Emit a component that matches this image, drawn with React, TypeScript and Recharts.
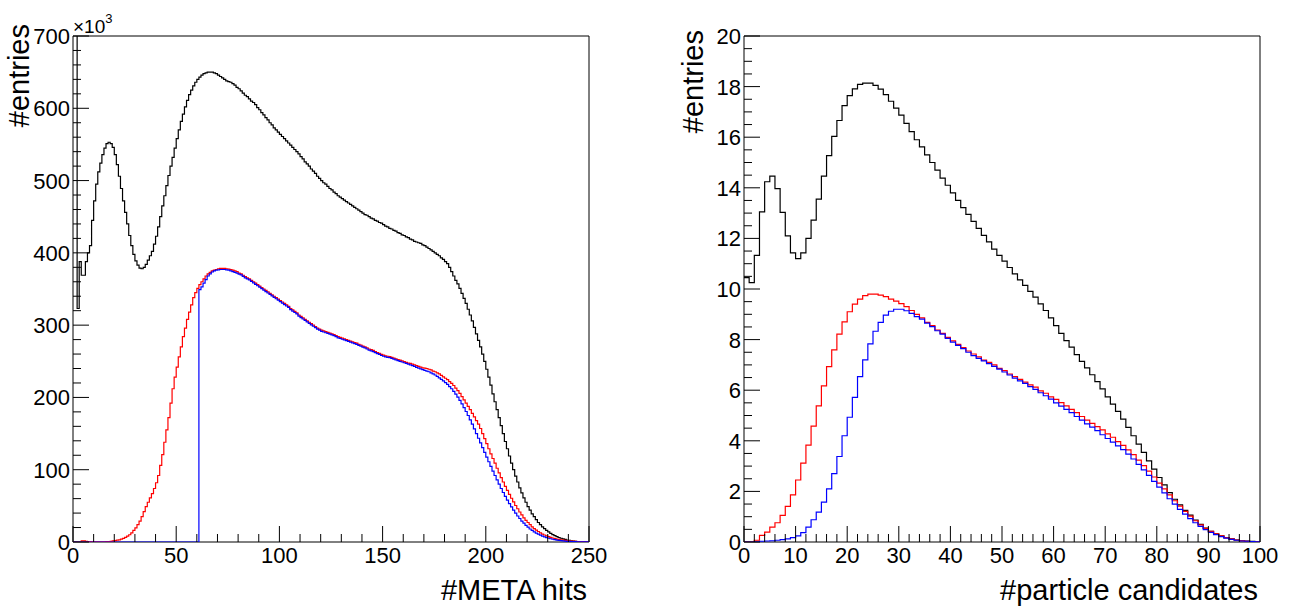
import { LineChart, Line, XAxis, YAxis, ReferenceArea } from 'recharts';

const FONT = '"Liberation Sans", Arial, Helvetica, sans-serif';

// Left panel: #META hits, one bin per hit, counts in units of 10^3
const metaAll = [
  760, 760, 323, 388, 369, 369, 388, 400, 410, 445,
  472, 495, 512, 524, 536, 545, 551, 553, 551, 546,
  536, 522, 506, 489, 472, 456, 440, 424, 410, 398,
  389, 383, 379, 378, 380, 384, 390, 396, 402, 412,
  423, 436, 450, 465, 479, 493, 507, 520, 532, 545,
  558, 570, 582, 592, 602, 611, 619, 625, 631, 636,
  640, 643, 646, 648, 649, 650, 650, 650, 649, 648,
  646, 644, 642, 640, 638, 637, 636, 634, 632, 629,
  627, 624, 621, 618, 616, 613, 610, 608, 605, 601,
  598, 594, 591, 587, 584, 580, 577, 573, 570, 567,
  564, 561, 558, 555, 552, 549, 546, 543, 540, 537,
  533, 530, 526, 523, 520, 516, 513, 510, 506, 503,
  500, 497, 495, 492, 489, 487, 484, 482, 479, 477,
  475, 473, 471, 469, 467, 465, 463, 461, 459, 457,
  455, 453, 452, 450, 448, 447, 445, 444, 442, 441,
  439, 437, 436, 434, 433, 431, 430, 428, 427, 425,
  424, 422, 421, 419, 418, 416, 415, 414, 413, 411,
  410, 408, 406, 404, 402, 400, 398, 396, 393, 391,
  388, 385, 380, 374, 368, 362, 357, 351, 344, 337,
  330, 322, 314, 306, 297, 288, 279, 270, 260, 250,
  239, 228, 217, 205, 194, 183, 172, 161, 150, 139,
  129, 119, 109, 100, 91, 83, 75, 68, 61, 55,
  49, 44, 39, 35, 31, 27, 24, 21, 18.5, 16,
  14, 12, 10.3, 8.8, 7.4, 6.2, 5.2, 4.3, 3.5, 2.8,
  2.2, 1.7, 1.3, 1.0, 0.7, 0.5, 0.35, 0.25, 0.15, 0.1,
];

const metaRed = [
  0, 0, 0, 0, 1.5, 1.5, 1, 0.5, 0.5, 0.3,
  0.3, 0.3, 0.3, 0.3, 0.3, 0.3, 0.5, 0.5, 1, 1.5,
  2, 2.5, 3, 4, 5, 6.5, 8, 10, 12.5, 16,
  19.5, 24, 29, 35, 42, 49, 55, 61, 67, 74,
  82, 92, 106, 121, 138, 155, 172, 192, 212, 228,
  242, 256, 270, 284, 296, 308, 318, 328, 338, 345,
  351, 356, 360, 364, 368, 371, 373, 375, 376, 377,
  378, 378.5, 378.5, 378.5, 378, 377.5, 377, 376, 375, 374,
  372, 371, 369, 367, 365.5, 364, 362, 360, 358, 356,
  354, 352, 350, 348, 346, 344, 342, 340, 338, 336,
  334, 332, 330, 328, 326, 323, 321, 319, 317, 314,
  312, 310, 308, 306, 304, 302, 300, 298, 296, 294.5,
  293, 292, 291, 290, 289, 288, 287, 285.5, 284, 283,
  282, 281, 280, 279, 278, 277, 276, 275, 273.5, 272.5,
  271, 270, 268.5, 267, 266, 265, 263.5, 262, 261, 259.5,
  258.5, 257.5, 257, 256.5, 255.5, 254.5, 253.5, 252.5, 251.5, 250.5,
  249.5, 248.5, 247.5, 247, 246, 245, 244, 243, 242, 241,
  240.5, 240, 239, 238, 236.5, 235.5, 234, 232.5, 230.5, 228.5,
  226.5, 224.5, 222, 219.5, 216.5, 213, 209.5, 205.5, 201, 196.5,
  192, 187.5, 183, 178, 173, 168, 163, 157, 150, 143,
  136, 129, 122, 115.5, 109, 102, 95.5, 89, 83, 77,
  71.5, 66, 60.5, 55.5, 50.5, 46, 41.5, 37.5, 33.5, 30,
  27, 24, 21, 18.5, 16.5, 14.5, 12.5, 11, 9.7, 8.5,
  7.4, 6.4, 5.5, 4.8, 4.1, 3.6, 3.1, 2.7, 2.3, 1.9,
  1.6, 1.3, 1.1, 0.9, 0.7, 0.5, 0.4, 0.3, 0.2, 0.1,
];

const metaBlue = [
  0, 0, 0, 0, 0, 0, 0, 0, 0, 0,
  0, 0, 0, 0, 0, 0, 0, 0, 0, 0,
  0, 0, 0, 0, 0, 0, 0, 0, 0, 0,
  0, 0, 0, 0, 0, 0, 0, 0, 0, 0,
  0, 0, 0, 0, 0, 0, 0, 0, 0, 0,
  0, 0, 0, 0, 0, 0, 0, 0, 0, 0,
  0, 349, 353, 358, 363, 368, 371, 373.5, 375, 376,
  376.5, 377, 377, 377, 376.5, 376, 375, 374, 373, 372,
  370.5, 369.5, 367.5, 365.5, 364, 362.5, 360.5, 358.5, 356.5, 354.5,
  352.5, 350.5, 348.5, 346.5, 344.5, 342.5, 340.5, 338.5, 336.5, 334.5,
  332.5, 330.5, 328.5, 326.5, 324.5, 321.5, 319.5, 317.5, 315.5, 312.5,
  310.5, 308.5, 306.5, 304.5, 302.5, 300.5, 298.5, 296.5, 294.5, 293,
  291.5, 290.5, 289.5, 288.5, 287.5, 286.5, 285.5, 284, 282.5, 281.5,
  280.5, 279.5, 278.5, 277.5, 276.5, 275.5, 274.5, 273.5, 272, 271,
  269.5, 268.5, 267, 265.5, 264.5, 263.5, 262, 260.5, 259.5, 258,
  257, 256, 255.5, 255, 254, 253, 252, 251, 250, 249,
  248, 247, 246, 245, 244, 243, 241.5, 240.5, 239.5, 238.5,
  237.5, 236.5, 235.5, 234, 232.5, 231, 229, 227, 225, 223,
  220.5, 218, 215, 212, 208.5, 204.5, 200.5, 196, 191, 186,
  180.5, 175, 169, 163, 156.5, 150, 143.5, 137, 130.5, 124,
  117.5, 111, 104.5, 98, 92, 86, 80, 74, 68.5, 63,
  58, 53, 48.5, 44, 40, 36, 32.5, 29, 26, 23,
  20.5, 18, 16, 14, 12.3, 10.8, 9.4, 8.2, 7.1, 6.1,
  5.2, 4.5, 3.8, 3.2, 2.7, 2.2, 1.8, 1.5, 1.2, 1.0,
  0.8, 0.6, 0.5, 0.4, 0.3, 0.2, 0.15, 0.1, 0.05, 0.05,
];

// Right panel: #particle candidates, one bin per candidate
const candAll = [
  10.45, 10.25, 11.33, 13.05, 14.24, 14.46, 13.97, 13.03, 12.1, 11.43,
  11.2, 11.43, 12.0, 12.72, 13.55, 14.46, 15.27, 16.03, 16.66, 17.25,
  17.64, 17.91, 18.09, 18.14, 18.14, 18.05, 17.9, 17.68, 17.42, 17.15,
  16.87, 16.55, 16.22, 15.9, 15.62, 15.3, 15.0, 14.7, 14.38, 14.1,
  13.8, 13.5, 13.22, 12.95, 12.67, 12.4, 12.12, 11.86, 11.58, 11.33,
  11.1, 10.85, 10.6, 10.36, 10.14, 9.91, 9.68, 9.41, 9.15, 8.86,
  8.55, 8.25, 7.96, 7.7, 7.41, 7.14, 6.88, 6.61, 6.34, 6.05,
  5.74, 5.45, 5.16, 4.86, 4.53, 4.2, 3.87, 3.54, 3.21, 2.88,
  2.55, 2.26, 1.95, 1.69, 1.47, 1.25, 1.06, 0.87, 0.7, 0.55,
  0.42, 0.32, 0.24, 0.17, 0.12, 0.08, 0.05, 0.04, 0.03, 0.01,
];

const candRed = [
  0, 0, 0.07, 0.26, 0.39, 0.59, 0.76, 1.05, 1.41, 1.86,
  2.45, 3.12, 3.83, 4.58, 5.38, 6.17, 6.93, 7.59, 8.22, 8.7,
  9.1, 9.4, 9.6, 9.74, 9.8, 9.8, 9.76, 9.7, 9.6, 9.52,
  9.42, 9.3, 9.15, 9.0, 8.86, 8.68, 8.55, 8.38, 8.25, 8.09,
  7.95, 7.81, 7.68, 7.55, 7.43, 7.32, 7.19, 7.1, 7.0, 6.86,
  6.77, 6.64, 6.54, 6.43, 6.32, 6.21, 6.12, 5.97, 5.88, 5.74,
  5.64, 5.51, 5.38, 5.24, 5.11, 4.96, 4.82, 4.69, 4.56, 4.43,
  4.27, 4.14, 3.97, 3.82, 3.64, 3.45, 3.24, 3.02, 2.8, 2.57,
  2.33, 2.1, 1.86, 1.63, 1.42, 1.21, 1.02, 0.84, 0.68, 0.54,
  0.42, 0.32, 0.24, 0.17, 0.12, 0.08, 0.05, 0.03, 0.02, 0.01,
];

const candBlue = [
  0, 0, 0.01, 0.03, 0.04, 0.05, 0.07, 0.09, 0.12, 0.17,
  0.24, 0.37, 0.59, 0.88, 1.18, 1.58, 2.1, 2.7, 3.38, 4.2,
  4.93, 5.72, 6.54, 7.2, 7.83, 8.33, 8.68, 8.97, 9.12, 9.2,
  9.2, 9.14, 9.04, 8.91, 8.81, 8.65, 8.51, 8.35, 8.22, 8.05,
  7.9, 7.77, 7.64, 7.5, 7.37, 7.26, 7.16, 7.05, 6.94, 6.83,
  6.72, 6.6, 6.48, 6.37, 6.27, 6.14, 6.03, 5.9, 5.78, 5.65,
  5.5, 5.37, 5.24, 5.11, 4.96, 4.82, 4.67, 4.54, 4.4, 4.24,
  4.09, 3.95, 3.8, 3.65, 3.47, 3.28, 3.07, 2.85, 2.63, 2.4,
  2.17, 1.94, 1.71, 1.5, 1.29, 1.1, 0.92, 0.76, 0.62, 0.49,
  0.38, 0.29, 0.21, 0.15, 0.1, 0.07, 0.04, 0.03, 0.02, 0.01,
];

// axis ranges and tick spacing (major labelled, minor unlabelled)
const metaRange = [0, 250, 0, 700];
const metaTickSteps = [50, 10, 100, 20];
const candRange = [0, 100, 0, 20];
const candTickSteps = [10, 2, 2, 0.5];

function stepTicks(max: number, step: number) {
  const out: number[] = [];
  for (let k = 0; k * step <= max + 1e-9; k++) out.push(+(k * step).toFixed(3));
  return out;
}

function isMajor(v: number, major: number) {
  const q = v / major;
  return Math.abs(q - Math.round(q)) < 1e-6;
}

// a step histogram needs one closing point at the right edge of the last bin
function histRows(all: number[], red: number[], blue: number[]) {
  const rows = all.map((v, i) => ({ x: i, all: v, red: red[i], blue: blue[i] }));
  const n = all.length;
  rows.push({ x: n, all: all[n - 1], red: red[n - 1], blue: blue[n - 1] });
  return rows;
}

const XTick = (props: any) => {
  const { x, y, payload, major } = props;
  const big = isMajor(payload.value, major);
  return (
    <g>
      <line x1={x} x2={x} y1={y} y2={y - (big ? 16 : 8)} stroke="#000" strokeWidth={1} />
      {big && (
        <text x={x} y={y + 21} textAnchor="middle" fontSize={22} fontFamily={FONT} fill="#000">
          {payload.value}
        </text>
      )}
    </g>
  );
};

const YTick = (props: any) => {
  const { x, y, payload, major } = props;
  const big = isMajor(payload.value, major);
  return (
    <g>
      <line x1={x} x2={x + (big ? 16 : 8)} y1={y} y2={y} stroke="#000" strokeWidth={1} />
      {big && (
        <text x={x - 3} y={y + 8} textAnchor="end" fontSize={22} fontFamily={FONT} fill="#000">
          {payload.value}
        </text>
      )}
    </g>
  );
};

type PanelProps = {
  left: number;
  width: number;
  axisWidth: number;
  rightMargin: number;
  rows: any[];
  range: number[];
  steps: number[];
  xTitle: string;
  xTitleEnd: number;
  yTitleX: number;
  yTitleTop: number;
  multiplier?: boolean;
};

function Panel(p: PanelProps) {
  const [x0, x1, y0, y1] = p.range;
  const [xMaj, xMin, yMaj, yMin] = p.steps;
  return (
    <div style={{ position: 'absolute', left: p.left, top: 0 }}>
      <LineChart
        width={p.width}
        height={610}
        data={p.rows}
        margin={{ top: 36, right: p.rightMargin, bottom: 0, left: 0 }}
      >
        <XAxis
          type="number"
          dataKey="x"
          domain={[x0, x1]}
          allowDataOverflow
          ticks={stepTicks(x1, xMin)}
          interval={0}
          tick={<XTick major={xMaj} />}
          tickSize={0}
          tickMargin={0}
          tickLine={false}
          axisLine={false}
          height={68}
          label={() => (
            <text x={p.xTitleEnd} y={600} textAnchor="end" fontSize={29} fontFamily={FONT} fill="#000">
              {p.xTitle}
            </text>
          )}
        />
        <YAxis
          type="number"
          domain={[y0, y1]}
          allowDataOverflow
          ticks={stepTicks(y1, yMin)}
          interval={0}
          tick={<YTick major={yMaj} />}
          tickSize={0}
          tickMargin={0}
          tickLine={false}
          axisLine={false}
          width={p.axisWidth}
          label={() => (
            <g>
              <text
                x={p.yTitleX}
                y={p.yTitleTop}
                transform={`rotate(-90 ${p.yTitleX} ${p.yTitleTop})`}
                textAnchor="end"
                fontSize={29}
                fontFamily={FONT}
                fill="#000"
              >
                #entries
              </text>
              {p.multiplier && (
                <text x={p.axisWidth} y={33} fontSize={19} fontFamily={FONT} fill="#000">
                  ×10
                  <tspan dy={-10} fontSize={13}>3</tspan>
                </text>
              )}
            </g>
          )}
        />
        <ReferenceArea x1={x0} x2={x1} y1={y0} y2={y1} fill="none" stroke="#000" strokeWidth={1} ifOverflow="visible" />
        <Line type="stepAfter" dataKey="all" stroke="#000000" strokeWidth={1.2} dot={false} activeDot={false} isAnimationActive={false} />
        <Line type="stepAfter" dataKey="red" stroke="#ff0000" strokeWidth={1.2} dot={false} activeDot={false} isAnimationActive={false} />
        <Line type="stepAfter" dataKey="blue" stroke="#0000ff" strokeWidth={1.2} dot={false} activeDot={false} isAnimationActive={false} />
      </LineChart>
    </div>
  );
}

export default function App() {
  return (
    <div style={{ position: 'absolute', left: 0, top: 0, width: 1293, height: 610, background: '#fff' }}>
      <Panel
        left={0}
        width={640}
        axisWidth={73}
        rightMargin={51}
        rows={histRows(metaAll, metaRed, metaBlue)}
        range={metaRange}
        steps={metaTickSteps}
        xTitle="#META hits"
        xTitleEnd={587}
        yTitleX={29}
        yTitleTop={24}
        multiplier
      />
      <Panel
        left={650}
        width={643}
        axisWidth={94}
        rightMargin={33}
        rows={histRows(candAll, candRed, candBlue)}
        range={candRange}
        steps={candTickSteps}
        xTitle="#particle candidates"
        xTitleEnd={608}
        yTitleX={53}
        yTitleTop={30}
      />
    </div>
  );
}
